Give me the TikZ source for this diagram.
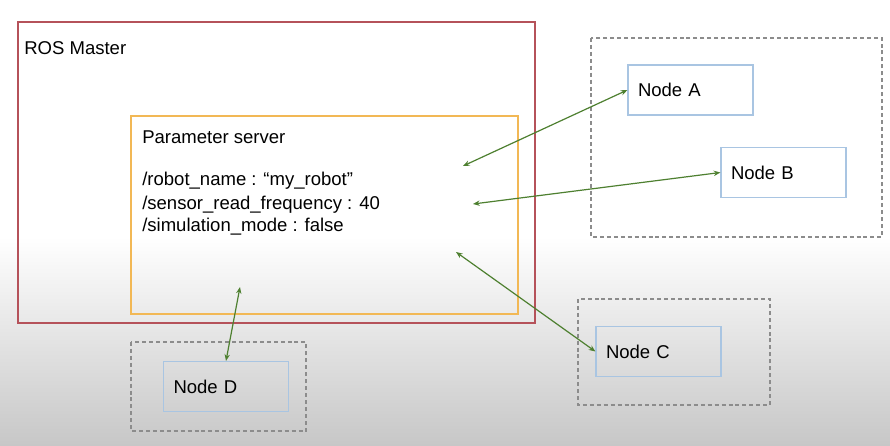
\documentclass[tikz,border=0pt]{standalone}
\usepackage{fontspec}
\setmainfont{Liberation Sans}
\usetikzlibrary{arrows.meta}
\definecolor{masterred}{HTML}{B5525A}
\definecolor{serverorange}{HTML}{F2B855}
\definecolor{nodeblue}{HTML}{A9C5E2}
\definecolor{linkgreen}{HTML}{4E8030}
\definecolor{groupgray}{HTML}{8C8C8C}

\begin{document}
\begin{tikzpicture}[x=0.75pt, y=-0.75pt]
        \tikzstyle{every node}=[font=\fontsize{13.9}{16}\selectfont]
        \tikzstyle{rosnode}=[draw=nodeblue, line width=0.9pt, rectangle, minimum width=93.75pt, minimum height=37.5pt, text width=78.75pt, inner xsep=7.5pt, align=left]
        \tikzstyle{group}=[draw=groupgray, line width=0.9pt, dash pattern=on 3pt off 2.2pt]
        \tikzstyle{link}=[draw=linkgreen, line width=0.9pt, {Stealth[length=5pt,width=4pt]}-{Stealth[length=5pt,width=4pt]}]
        \tikzstyle{label}=[anchor=base west, inner sep=0pt]
        % background
        \fill[white] (0,0) rectangle (890,446);
        \shade[top color=white, bottom color=black!22] (0,237) rectangle (890,446);
        % master and parameter server
        \draw[masterred, line width=0.9pt] (18,22) rectangle (535,323);
        \node[label] (master) at (24,55) {ROS Master};
        \draw[serverorange, line width=0.9pt] (131,116) rectangle (518,314);
        \node[label] (server) at (142,143) {Parameter server};
        \node[label] (p1) at (142,185) {/robot\_name : “my\_robot”};
        \node[label] (p2) at (142,209) {/sensor\_read\_frequency : 40};
        \node[label] (p3) at (142,231) {/simulation\_mode : false};
        % groups
        \draw[group] (591,38) rectangle (882,237);
        \draw[group] (578,299) rectangle (770,405);
        \draw[group] (131,342) rectangle (306,431);
        % nodes
        \node[rosnode] (A) at (690.5,90) {Node A};
        \node[rosnode] (B) at (783.5,172.5) {Node B};
        \node[rosnode] (C) at (658.5,351.5) {Node C};
        \node[rosnode] (D) at (226,386.5) {Node D};
        % links
        \coordinate (ea) at (463,166);
        \coordinate (eb) at (473,204);
        \coordinate (ec) at (456,252);
        \coordinate (ed) at (240,287);
        \draw[link] (ea) -- (A.west);
        \draw[link] (eb) -- (B.west);
        \draw[link] (ec) -- (C.west);
        \draw[link] (ed) -- (D.north);
    \end{tikzpicture}
\end{document}
